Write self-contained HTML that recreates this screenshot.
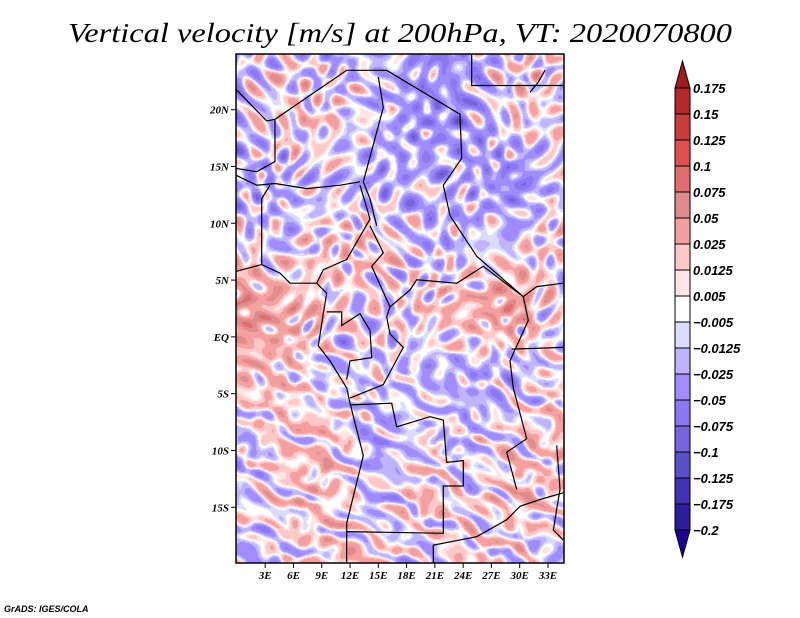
<!DOCTYPE html>
<html><head><meta charset="utf-8">
<style>
html,body{margin:0;padding:0;background:#fff;}
#wrap{position:relative;width:800px;height:618px;overflow:hidden;}
canvas{position:absolute;left:0;top:0;}
svg{position:absolute;left:0;top:0;}
</style></head>
<body>
<div id="wrap">
<canvas id="field" width="800" height="618"></canvas>
<svg id="ov" width="800" height="618">
<text x="400" y="42" text-anchor="middle" textLength="664" lengthAdjust="spacingAndGlyphs" font-family="Liberation Serif, serif" font-style="italic" font-size="27" fill="#000">Vertical velocity [m/s] at 200hPa, VT: 2020070800</text>
<text x="4" y="612" font-family="Liberation Sans, sans-serif" font-style="italic" font-weight="bold" font-size="9" fill="#000">GrADS: IGES/COLA</text>
<g id="borders"></g>
<g id="axes"></g>
<g id="cbar"></g>
</svg>
</div>
<script>
// ---- data ----
const levels = [0.175,0.15,0.125,0.1,0.075,0.05,0.025,0.0125,0.005,-0.005,-0.0125,-0.025,-0.05,-0.075,-0.1,-0.125,-0.175,-0.2];
const levelLabels = ["0.175","0.15","0.125","0.1","0.075","0.05","0.025","0.0125","0.005","\u22120.005","\u22120.0125","\u22120.025","\u22120.05","\u22120.075","\u22120.1","\u22120.125","\u22120.175","\u22120.2"];
const binColors = ["#a01c1c","#b42828","#c83c3c","#e05050","#e06e6e","#e08c8c","#f5a0a0","#ffc8c8","#ffe6e6","#ffffff","#dcdcff","#c0b4ff","#a08cff","#8c78f0","#7864dc","#5a50c8","#4032b4","#2d1ea0","#1e0096"];
const latTicks = [20,15,10,5,0,-5,-10,-15];
const latLabels = ["20N","15N","10N","5N","EQ","5S","10S","15S"];
const lonTicks = [3,6,9,12,15,18,21,24,27,30,33];
const lonLabels = ["3E","6E","9E","12E","15E","18E","21E","24E","27E","30E","33E"];
// coarse mean field (rows 25N..-20S, cols 0E..34.7E)
const gridRow0 = [-0.015,0.0,-0.02,-0.01,-0.035,-0.025,0.01,0.0];
const gridRow1 = [-0.02,0.01,0.012,-0.012,-0.04,-0.04,0.012,0.0];
const gridRow2 = [-0.025,-0.02,-0.012,-0.03,-0.02,-0.02,-0.05,0.0];
const gridRow3 = [0.0,-0.01,0.012,0.02,-0.02,-0.012,0.0,0.01];
const gridRow4 = [0.06,0.035,0.012,-0.012,0.01,0.03,0.05,-0.02];
const gridRow5 = [0.02,0.02,-0.02,0.0,-0.02,-0.02,-0.025,0.01];
const gridRow6 = [-0.02,0.012,0.02,-0.03,0.0,-0.02,0.012,0.02];
const gridRow7 = [-0.012,0.012,0.02,-0.02,0.02,0.0,0.02,0.01];
const gridRow8 = [-0.02,-0.012,0.012,0.02,-0.02,0.012,0.0,-0.02];
const grid = [gridRow0,gridRow1,gridRow2,gridRow3,gridRow4,gridRow5,gridRow6,gridRow7,gridRow8];

// ---- geometry ----
const X0=236, X1=564, Y0=54, Y1=563;
const lonMin=-0.1, lonMax=34.7, latMax=24.9, latMin=-19.9;
const xs = lon => X0 + (lon-lonMin)/(lonMax-lonMin)*(X1-X0);
const ys = lat => Y0 + (latMax-lat)/(latMax-latMin)*(Y1-Y0);
const NS='http://www.w3.org/2000/svg';

function hex(c){return [parseInt(c.substr(1,2),16),parseInt(c.substr(3,2),16),parseInt(c.substr(5,2),16)];}
const rgbBins = binColors.map(hex);
function binIndex(v){for(let i=0;i<levels.length;i++){if(v>levels[i])return i;}return levels.length;}

// texture components (frequency x, frequency y, phase)
const tex = [[0.173,0.251,0.3],[0.231,-0.147,1.7],[-0.119,0.207,2.9],[0.291,0.083,4.1],[0.067,-0.313,5.3],[0.197,0.171,0.9],[-0.263,0.131,3.6]];
function texture(x,y){
  const wx = x + 7*Math.sin(0.047*y+0.6) + 5*Math.sin(0.061*x+0.031*y);
  const wy = y + 7*Math.sin(0.053*x+1.9) + 5*Math.cos(0.043*y-0.027*x);
  let s=0;
  for(const t of tex) s += Math.sin(t[0]*wx + t[1]*wy + t[2]);
  return s/Math.sqrt(tex.length/2);
}

// field
(function(){
  const cv=document.getElementById('field'), ctx=cv.getContext('2d');
  const W=X1-X0, H=Y1-Y0, img=ctx.createImageData(W,H);
  const R=grid.length, C=grid[0].length;
  for(let j=0;j<H;j++){
    for(let i=0;i<W;i++){
      const gy=j/H*(R-1), gx=i/W*(C-1);
      const r0=Math.floor(gy), c0=Math.floor(gx), r1=Math.min(r0+1,R-1), c1=Math.min(c0+1,C-1);
      const fy=gy-r0, fx=gx-c0;
      const m = grid[r0][c0]*(1-fx)*(1-fy)+grid[r0][c1]*fx*(1-fy)+grid[r1][c0]*(1-fx)*fy+grid[r1][c1]*fx*fy;
      const south = Math.max(0,Math.min(1,(j-H*0.52)/(H*0.15)));
      const wob = 3*Math.sin(0.07*i+0.11*j)+2*Math.sin(0.13*i-0.05*j);
      const streak = Math.sin(0.1*i - 0.22*j + 0.9*Math.sin(0.021*i+0.017*j) + wob*0.3)
                   + 0.6*Math.sin(0.16*i - 0.33*j + 1.3 + wob*0.4);
      const v = m + 0.024*texture(i,j)*(1-0.5*south) + 0.022*south*streak;
      const c=rgbBins[binIndex(v)], k=(j*W+i)*4;
      img.data[k]=c[0];img.data[k+1]=c[1];img.data[k+2]=c[2];img.data[k+3]=255;
    }
  }
  ctx.putImageData(img,X0,Y0);
})();

// borders (approximate, traced in reference zoom coords)
const borderLines = [
 [[137,115],[230,210],[255,205],[470,60],[590,60],[810,190],[815,320],[760,400],[780,490],[860,610],[1000,730]],
 [[845,14],[845,105],[1120,105]],
 [[1020,125],[1045,95],[1065,60]],
 [[137,370],[200,400],[255,395],[350,410],[450,400],[510,390]],
 [[565,80],[580,170],[520,390],[540,440],[560,520]],
 [[510,400],[540,500],[470,620],[400,650],[380,690]],
 [[540,520],[580,600],[545,640],[600,760],[590,790]],
 [[600,760],[660,710],[680,680],[800,690],[880,640],[1000,730]],
 [[137,655],[215,635],[270,660],[300,690],[380,690],[410,720],[400,780],[385,875],[420,920],[470,1000],[480,1045],[520,1200],[470,1400],[470,1518]],
 [[480,1050],[605,1045],[620,1115],[720,1085],[760,1095],[770,1220],[820,1215],[820,1290],[760,1290],[760,1430],[470,1425]],
 [[590,790],[600,840],[640,880],[580,990],[480,1030]],
 [[410,775],[455,775],[455,815],[510,780],[540,830],[545,910],[480,920],[470,975]],
 [[1000,730],[1015,800],[960,920],[970,1000],[1010,1150],[950,1190],[980,1300]],
 [[730,1518],[730,1465],[860,1440],[950,1390],[990,1350],[1050,1330],[1120,1310]],
 [[215,635],[215,440],[240,400]],
 [[255,205],[255,330],[200,360],[137,350]],
 [[1000,730],[1040,700],[1120,690]],
 [[965,885],[1120,880]],
 [[1100,1170],[1110,1300],[1090,1420],[1120,1450]]
];
(function(){
  const g=document.getElementById('borders');
  borderLines.forEach(ln=>{
    const p=document.createElementNS(NS,'polyline');
    p.setAttribute('points',ln.map(q=>(190+q[0]/3).toFixed(1)+','+(50+q[1]/3*(509/502)).toFixed(1)).join(' '));
    p.setAttribute('fill','none');p.setAttribute('stroke','#000');p.setAttribute('stroke-width','1.2');
    
    
    g.appendChild(p);
  });
})();

// axes
(function(){
  const g=document.getElementById('axes');
  const fr=document.createElementNS(NS,'rect');
  fr.setAttribute('x',X0);fr.setAttribute('y',Y0);fr.setAttribute('width',X1-X0);fr.setAttribute('height',Y1-Y0);
  fr.setAttribute('fill','none');fr.setAttribute('stroke','#000');fr.setAttribute('stroke-width','1.5');
  
  
  g.appendChild(fr);
  latTicks.forEach((lat,i)=>{
    const y=ys(lat);
    const l=document.createElementNS(NS,'line');
    l.setAttribute('x1',X0-5);l.setAttribute('x2',X0);l.setAttribute('y1',y);l.setAttribute('y2',y);l.setAttribute('stroke','#000');
    
    
    g.appendChild(l);
    const t=document.createElementNS(NS,'text');
    t.setAttribute('x',X0-7);t.setAttribute('y',y+4);t.setAttribute('text-anchor','end');
    t.setAttribute('font-family','Liberation Serif, serif');t.setAttribute('font-size','11');
    t.setAttribute('font-style','italic');t.setAttribute('font-weight','bold');
    t.textContent=latLabels[i];
    
    
    g.appendChild(t);
  });
  lonTicks.forEach((lon,i)=>{
    const x=xs(lon);
    const l=document.createElementNS(NS,'line');
    l.setAttribute('x1',x);l.setAttribute('x2',x);l.setAttribute('y1',Y1);l.setAttribute('y2',Y1+5);l.setAttribute('stroke','#000');
    
    
    g.appendChild(l);
    const t=document.createElementNS(NS,'text');
    t.setAttribute('x',x);t.setAttribute('y',Y1+16);t.setAttribute('text-anchor','middle');
    t.setAttribute('font-family','Liberation Serif, serif');t.setAttribute('font-size','11');
    t.setAttribute('font-style','italic');t.setAttribute('font-weight','bold');
    t.textContent=lonLabels[i];
    
    
    g.appendChild(t);
  });
})();

// colorbar
(function(){
  const g=document.getElementById('cbar');
  const cx0=675, cx1=690, top=88, step=26, n=levels.length;
  const yl = i => top + i*step;
  let tri=document.createElementNS(NS,'polygon');
  tri.setAttribute('points',`${cx0},${yl(0)} ${cx1},${yl(0)} ${(cx0+cx1)/2},${yl(0)-27}`);
  tri.setAttribute('fill',binColors[0]);tri.setAttribute('stroke','#000');tri.setAttribute('stroke-width','1');
  
  
  g.appendChild(tri);
  for(let i=0;i<n-1;i++){
    const r=document.createElementNS(NS,'rect');
    r.setAttribute('x',cx0);r.setAttribute('y',yl(i));r.setAttribute('width',cx1-cx0);r.setAttribute('height',step);
    r.setAttribute('fill',binColors[i+1]);r.setAttribute('stroke','#000');r.setAttribute('stroke-width','1');
    
    
    g.appendChild(r);
  }
  tri=document.createElementNS(NS,'polygon');
  tri.setAttribute('points',`${cx0},${yl(n-1)} ${cx1},${yl(n-1)} ${(cx0+cx1)/2},${yl(n-1)+27}`);
  tri.setAttribute('fill',binColors[n]);tri.setAttribute('stroke','#000');tri.setAttribute('stroke-width','1');
  
  
  g.appendChild(tri);
  levelLabels.forEach((s,i)=>{
    const t=document.createElementNS(NS,'text');
    t.setAttribute('x',cx1+3);t.setAttribute('y',yl(i)+5);
    t.setAttribute('font-family','Liberation Sans, sans-serif');t.setAttribute('font-size','13');
    t.setAttribute('font-style','italic');t.setAttribute('font-weight','bold');
    t.textContent=s;
    
    
    g.appendChild(t);
  });
})();
</script>
</body></html>
